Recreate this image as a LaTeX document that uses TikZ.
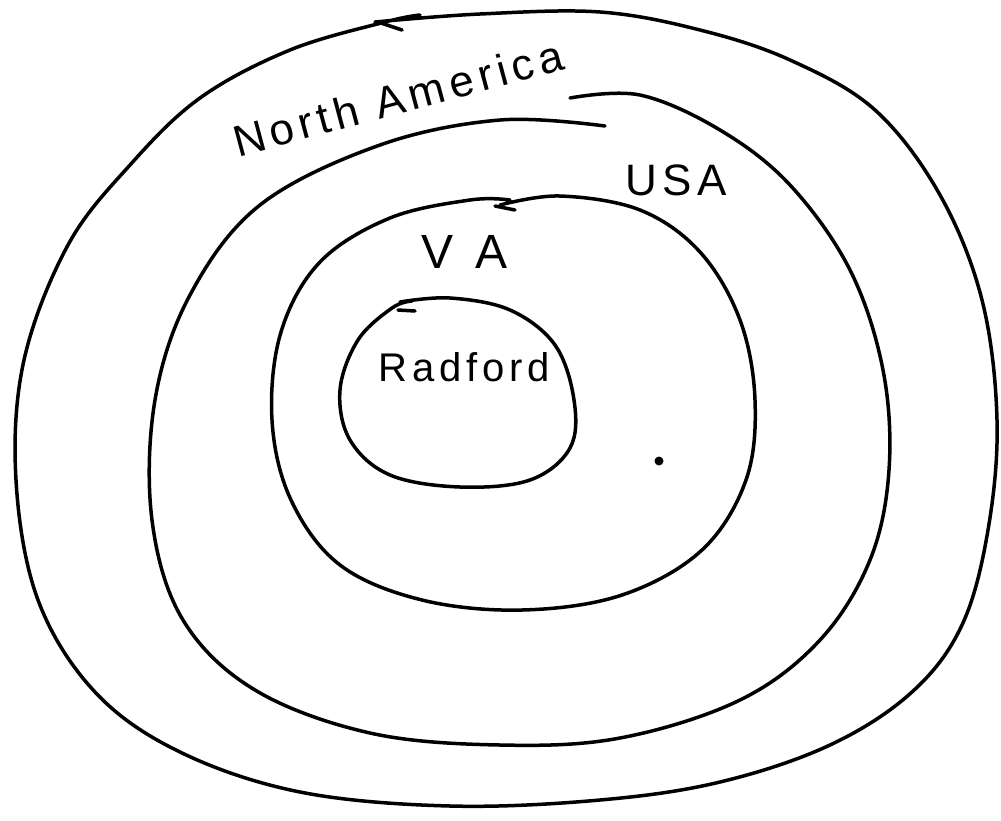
\documentclass[tikz,border=0pt]{standalone}
\usepackage{fontspec}
\setmainfont{Liberation Sans}
\newfontfamily\wide[LetterSpace=12]{Liberation Sans}
\begin{document}
\begin{tikzpicture}[x=1pt,y=-1pt,
  ink/.style={line width=3.5pt,line cap=round,line join=round,black},
  hand/.style={inner sep=0pt}]
\useasboundingbox (0,0) rectangle (1001,820);
% outer: North America
\draw[ink] plot[smooth,tension=0.6] coordinates {
 (375,22) (480,14) (600,12) (700,30) (790,60) (875,110) (940,195) (982,300)
 (997,420) (988,530) (962,625) (912,692) (830,745) (720,782) (600,800)
 (450,806) (300,792) (180,752) (95,692) (38,600) (16,480) (24,360)
 (68,245) (130,165) (200,98) (290,50) (385,22) (420,15)};
\draw[ink] (378,22) -- (402,30);
% USA
\draw[ink] plot[smooth,tension=0.6] coordinates {
 (570,98) (640,95) (720,130) (790,185) (850,270) (883,370) (889,470)
 (870,560) (820,640) (740,700) (620,738) (500,745) (370,733) (255,690)
 (183,620) (152,520) (155,400) (190,295) (260,205) (380,145) (500,120) (605,126)};
% VA
\draw[ink] plot[smooth,tension=0.6] coordinates {
 (500,205) (560,196) (640,210) (700,252) (740,320) (755,400) (746,480)
 (702,550) (622,595) (522,610) (422,600) (340,565) (291,500) (272,420)
 (281,332) (320,262) (390,218) (470,200) (510,200)};
\draw[ink] (495,206) -- (515,210);
% Radford
\draw[ink] plot[smooth,tension=0.6] coordinates {
 (400,302) (450,298) (510,310) (555,345) (574,400) (570,448) (530,480)
 (460,487) (390,475) (350,440) (340,390) (358,340) (392,308) (412,301)};
\draw[ink] (398,310) -- (415,311);
% labels
\node[hand,rotate=15,font=\wide\fontsize{44}{44}\selectfont] (na) at (398,98) {North America};
\node[hand,font=\wide\fontsize{44}{44}\selectfont] (usa) at (676,180) {USA};
\node[hand,font=\fontsize{48}{48}\selectfont] (va) at (465,252) {V\hspace{22pt}A};
\node[hand,font=\wide\fontsize{40}{40}\selectfont] (rad) at (464,367) {Radford};
\fill (659,461) circle (4.5);
\end{tikzpicture}
\end{document}
